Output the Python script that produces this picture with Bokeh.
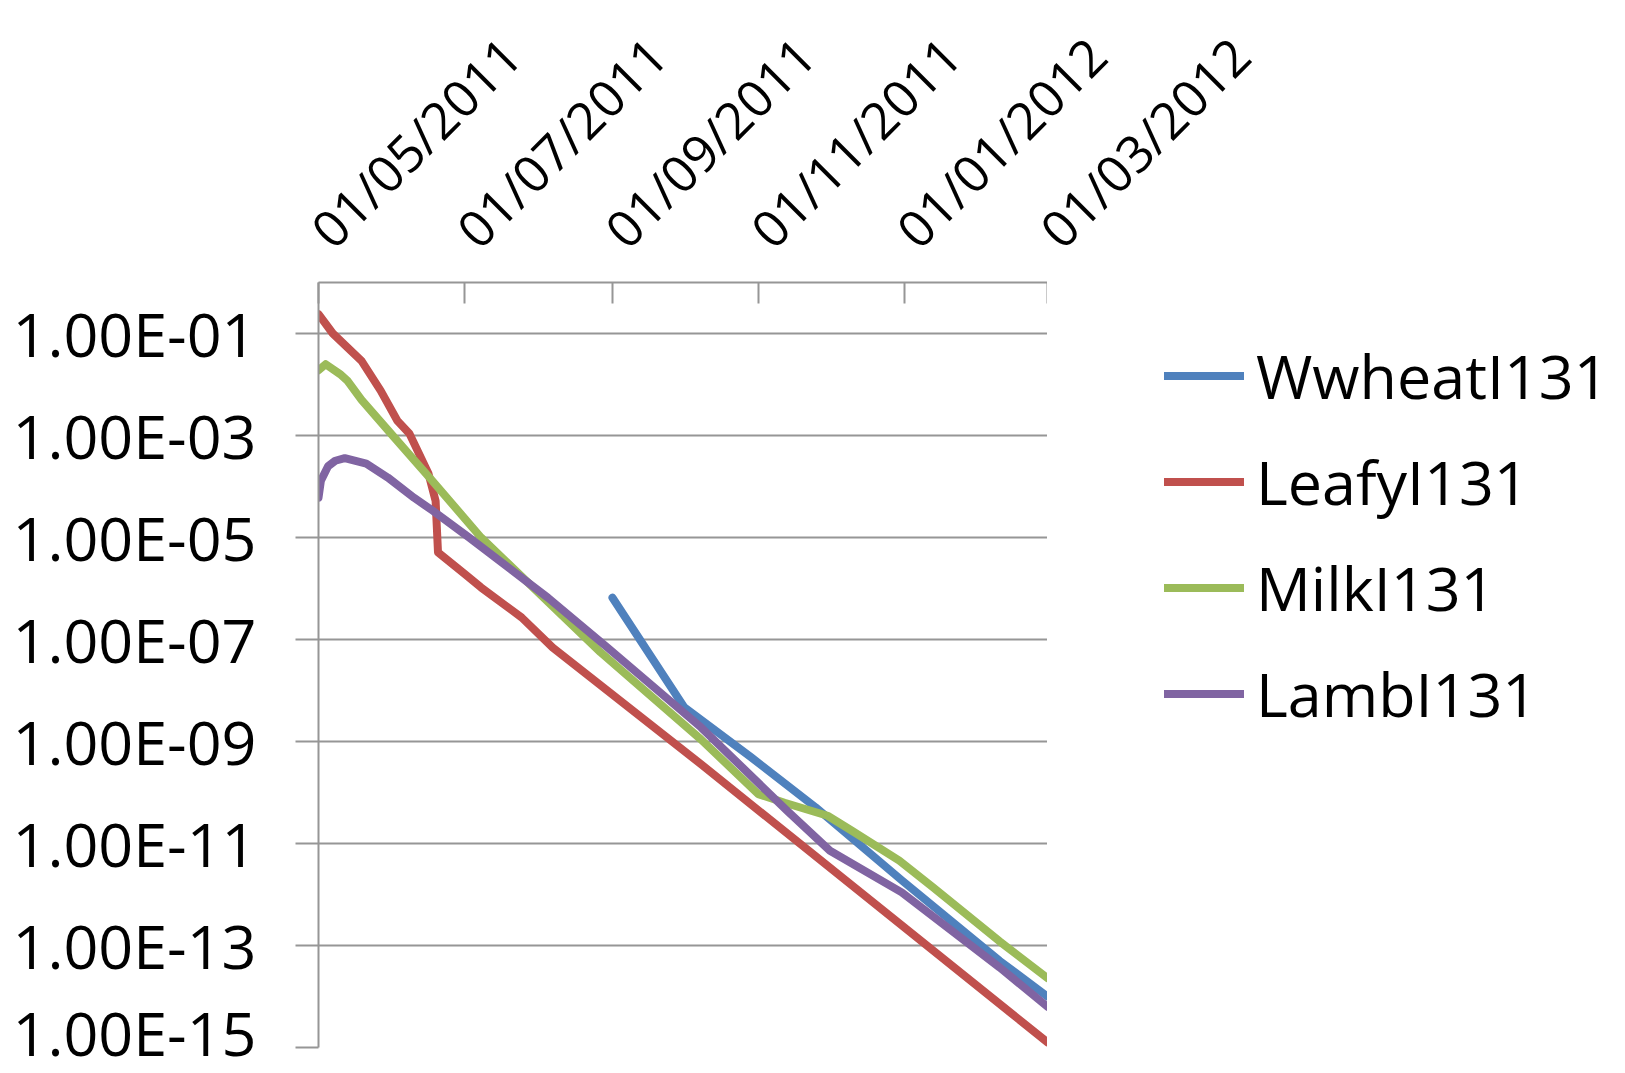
import pandas as pd
from math import pi
from bokeh.plotting import figure
from bokeh.layouts import column, row
from bokeh.core.properties import value
from bokeh.models import (Range1d, FixedTicker, Legend, LegendItem, CustomJSTickFormatter)
from bokeh.embed import file_html
from bokeh.resources import INLINE

# ---------------- data ----------------
x_tick_dates = ["2011-05-01", "2011-07-01", "2011-09-01", "2011-11-01", "2012-01-01", "2012-03-01"]
x_tick_labels = ["01/05/2011", "01/07/2011", "01/09/2011", "01/11/2011", "01/01/2012", "01/03/2012"]
y_tick_values = [1e-1, 1e-3, 1e-5, 1e-7, 1e-9, 1e-11, 1e-13, 1e-15]
y_tick_labels = ["1.00E-01", "1.00E-03", "1.00E-05", "1.00E-07", "1.00E-09", "1.00E-11", "1.00E-13", "1.00E-15"]

series_names = ["WwheatI131", "LeafyI131", "MilkI131", "LambI131"]

wwheat_dates = ["2011-09-01", "2011-10-01", "2011-10-29", "2011-11-25", "2011-12-31", "2012-02-10", "2012-03-01"]
wwheat_values = [6.6e-7, 4.7e-9, 4.9e-10, 5.1e-11, 1.9e-12, 5.0e-14, 1.0e-14]

leafy_dates = ["2011-05-01", "2011-05-07", "2011-05-19", "2011-05-27", "2011-06-03",
               "2011-06-08", "2011-06-16", "2011-06-19", "2011-06-20", "2011-07-01", "2011-07-08",
               "2011-07-25", "2011-08-07", "2011-10-08", "2012-03-01"]
leafy_values = [2.4e-1, 1.0e-1, 2.9e-2, 7.6e-3, 1.95e-3,
                1.1e-3, 1.8e-4, 5.2e-5, 5.1e-6, 1.95e-6, 1.05e-6,
                2.7e-7, 6.9e-8, 3.6e-10, 1.26e-15]

milk_dates = ["2011-05-01", "2011-05-04", "2011-05-10", "2011-05-13", "2011-05-19", "2011-06-01",
              "2011-06-17", "2011-07-08", "2011-08-27", "2011-10-08", "2011-11-01", "2011-11-12",
              "2011-11-30", "2011-12-10", "2011-12-30", "2012-01-13", "2012-02-10", "2012-03-01"]
milk_values = [1.9e-2, 2.5e-2, 1.6e-2, 1.2e-2, 5.0e-3, 1.0e-3,
               1.4e-4, 1.0e-5, 5.6e-8, 1.1e-9, 9.3e-11, 6.3e-11,
               3.5e-11, 1.8e-11, 4.6e-12, 1.4e-12, 1.2e-13, 2.3e-14]

lamb_dates = ["2011-05-01", "2011-05-02", "2011-05-05", "2011-05-08", "2011-05-12", "2011-05-21",
              "2011-05-30", "2011-06-10", "2011-06-18", "2011-07-03", "2011-08-05", "2011-08-30",
              "2011-10-08", "2011-11-13", "2011-12-01", "2011-12-31", "2012-02-10", "2012-03-01"]
lamb_values = [6.0e-5, 1.3e-4, 2.5e-4, 3.2e-4, 3.6e-4, 2.8e-4,
               1.5e-4, 6.0e-5, 3.3e-5, 1.0e-5, 6.6e-7, 6.9e-8,
               1.9e-9, 4.4e-11, 7.2e-12, 1.1e-12, 3.7e-14, 6.3e-15]

colors = ["#4F81BD", "#C0504D", "#9BBB59", "#8064A2"]

# ---------------- layout constants ----------------
FONT = "Open Sans"
GRID = "#969696"
W = 1625
LEFT, FRAME_W = 318, 729
MAIN_W = LEFT + FRAME_W
LEG_W = W - MAIN_W
TOP_H = 262          # strip holding the rotated date labels
MAIN_H = 811
LINE_W = 8

tick_dt = pd.to_datetime(x_tick_dates)
tick_ms = [float(t.value // 10**6) for t in tick_dt]
ms_per_px = (tick_ms[-1] - tick_ms[0]) / FRAME_W

# ---------------- top strip: date labels ----------------
top = figure(width=W, height=TOP_H, output_backend="svg", toolbar_location=None,
             x_axis_type="datetime", x_axis_location=None, y_axis_location=None,
             x_range=Range1d(tick_ms[0] - LEFT * ms_per_px, tick_ms[0] + (W - LEFT) * ms_per_px),
             y_range=Range1d(0, TOP_H), min_border=0)
top.outline_line_color = None
top.grid.grid_line_color = None
top.background_fill_color = "white"
top.border_fill_color = "white"
top.text(x=tick_dt, y=25, text=x_tick_labels, angle=pi / 4, x_offset=1,
         text_align="left", text_baseline="alphabetic",
         text_font=value(FONT), text_font_size="51px", text_color="black")

# ---------------- main chart ----------------
p = figure(width=MAIN_W, height=MAIN_H, output_backend="svg", toolbar_location=None,
           x_axis_type="datetime", y_axis_type="log", x_axis_location="above",
           x_range=Range1d(tick_dt[0], tick_dt[-1]), y_range=Range1d(1e-15, 1.0),
           min_border_left=LEFT, min_border_right=0,
           min_border_top=20, min_border_bottom=26)
p.outline_line_color = None
p.background_fill_color = "white"
p.border_fill_color = "white"

xa = p.xaxis[0]
xa.ticker = FixedTicker(ticks=tick_ms, minor_ticks=[])
xa.formatter = CustomJSTickFormatter(code="return '';")
xa.major_tick_in = 21
xa.major_tick_out = 0
xa.minor_tick_in = 0
xa.minor_tick_out = 0
xa.major_label_standoff = 0
xa.axis_line_color = GRID
xa.axis_line_width = 2
xa.major_tick_line_color = GRID
xa.major_tick_line_width = 2

ya = p.yaxis[0]
ya.ticker = FixedTicker(ticks=y_tick_values, minor_ticks=[])
ya.formatter = CustomJSTickFormatter(args=dict(vals=y_tick_values, labs=y_tick_labels), code="""
let best = 0;
for (let i = 0; i < vals.length; i++) {
  if (Math.abs(Math.log10(vals[i]) - Math.log10(tick)) < Math.abs(Math.log10(vals[best]) - Math.log10(tick))) best = i;
}
return labs[best];
""")
ya.major_tick_out = 23
ya.major_tick_in = 0
ya.minor_tick_in = 0
ya.minor_tick_out = 0
ya.major_label_standoff = 39
ya.axis_line_color = GRID
ya.axis_line_width = 2
ya.major_tick_line_color = GRID
ya.major_tick_line_width = 2
ya.major_label_text_font = FONT
ya.major_label_text_font_size = "61px"
ya.major_label_text_color = "black"

p.xgrid.grid_line_color = None
p.ygrid.grid_line_color = GRID
p.ygrid.grid_line_width = 2

all_dates = [wwheat_dates, leafy_dates, milk_dates, lamb_dates]
all_values = [wwheat_values, leafy_values, milk_values, lamb_values]
for d, v, c in zip(all_dates, all_values, colors):
    p.line(x=pd.to_datetime(d), y=v, line_color=c, line_width=LINE_W,
           line_cap="round", line_join="round")

# ---------------- legend panel ----------------
# the same series are attached to a blank panel (their data fall outside its ranges,
# so nothing is drawn there) only to feed the legend's line samples
lg = figure(width=LEG_W, height=MAIN_H, output_backend="svg", toolbar_location=None,
            x_axis_location=None, y_axis_location=None,
            x_range=Range1d(0, 1), y_range=Range1d(0, 1), min_border=0)
lg.outline_line_color = None
lg.grid.grid_line_color = None
lg.background_fill_color = "white"
lg.border_fill_color = "white"
leg_renderers = [lg.line(x=pd.to_datetime(d), y=v, line_color=c, line_width=LINE_W, line_cap="round")
                 for d, v, c in zip(all_dates, all_values, colors)]
legend = Legend(items=[LegendItem(label=n, renderers=[r]) for n, r in zip(series_names, leg_renderers)],
                location=(117, 312), orientation="vertical",
                label_text_font=FONT, label_text_font_size="61px", label_text_color="black",
                glyph_width=80, glyph_height=83, label_height=83, spacing=23,
                padding=0, margin=0, label_standoff=12,
                border_line_color=None, background_fill_alpha=0)
lg.add_layout(legend)

layout = column(top, row(p, lg, spacing=0), spacing=0)
open("out.html", "w").write(file_html(layout, INLINE))
